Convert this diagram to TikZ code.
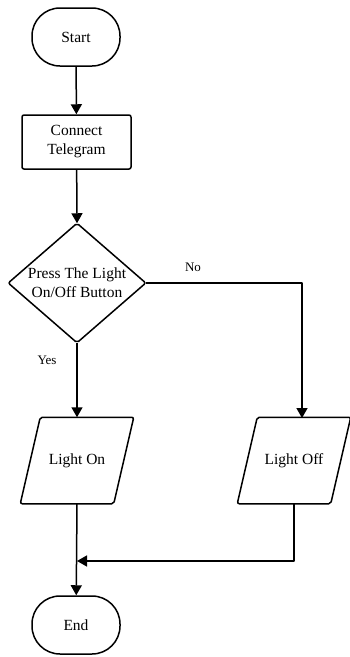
\documentclass[tikz,border=0pt]{standalone}
\usepackage{fontspec}
\setmainfont{Liberation Serif}
\usetikzlibrary{arrows.meta,calc}
\begin{document}
\begin{tikzpicture}[x=1pt,y=-1pt,line width=1.5pt,line join=round,
  txt/.style={align=center,inner sep=0pt,font=\fontsize{15.5}{19}\selectfont},
  term/.style={txt,draw,rounded corners=28pt,minimum width=88pt,minimum height=58pt},
  procbox/.style={txt,draw,rounded corners=2pt,minimum width=109pt,minimum height=54pt},
  ghost/.style={txt},
  shapeline/.style={draw,rounded corners=2pt},
  lbl/.style={font=\fontsize{13}{15}\selectfont,inner sep=0pt},
  arr/.style={-{Triangle[length=10pt,width=11pt]}}]
\useasboundingbox (0,0) rectangle (349,657);
\node[term] (start) at (76,37) {Start};
\node[procbox] (conn) at (76.5,142) {Connect\\Telegram};
\node[ghost,minimum width=136pt,minimum height=118pt] (dec) at (77,283) {Press The Light\\On/Off Button};
\draw[shapeline] (dec.north) -- (dec.east) -- (dec.south) -- (dec.west) -- cycle;
\node[ghost,minimum width=92pt,minimum height=85pt] (on) at (77,460.5) {Light On};
\draw[shapeline] ($(on.north west)+(10,0)$) -- ($(on.north east)+(10,0)$) -- ($(on.south east)+(-10,0)$) -- ($(on.south west)+(-10,0)$) -- cycle;
\node[ghost,minimum width=92pt,minimum height=85pt] (off) at (294,460.5) {Light Off};
\draw[shapeline] ($(off.north west)+(10,0)$) -- ($(off.north east)+(10,0)$) -- ($(off.south east)+(-10,0)$) -- ($(off.south west)+(-10,0)$) -- cycle;
\node[term] (end) at (76,625) {End};
\coordinate (offin) at (302,418);
\coordinate (join) at (77,561);
\draw[arr] (start) -- (conn);
\draw[arr] (conn) -- (dec.north);
\draw[arr] (dec.south) -- (on.north);
\draw[arr] (dec.east) -| (offin);
\draw[arr] (off.south) |- (join);
\draw[arr] (on.south) -- (end);
\node[lbl] (no) at (193,267) {No};
\node[lbl] (yes) at (47,360) {Yes};
\end{tikzpicture}
\end{document}
